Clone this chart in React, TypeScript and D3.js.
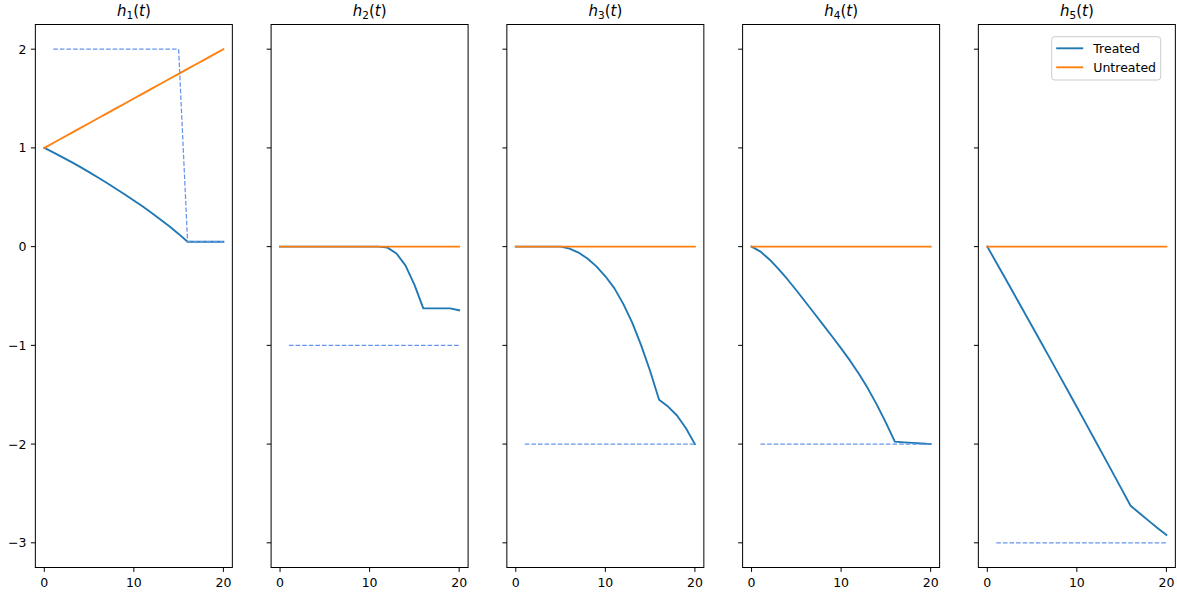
import React from "react";
import * as d3 from "d3";

const WIDTH = 1177;
const HEIGHT = 594;

// time steps for the solid curves, and for the dashed targets (which start at t=1)
const times = [0, 1, 2, 3, 4, 5, 6, 7, 8, 9, 10, 11, 12, 13, 14, 15, 16, 17, 18, 19, 20];
const targetTimes = [1, 2, 3, 4, 5, 6, 7, 8, 9, 10, 11, 12, 13, 14, 15, 16, 17, 18, 19, 20];

const treated1 = [1.0, 0.954, 0.907, 0.859, 0.808, 0.755, 0.7, 0.644, 0.587, 0.528, 0.468, 0.406, 0.341, 0.273, 0.203, 0.129, 0.05, 0.05, 0.05, 0.05, 0.05];
const treated2 = [0, 0, 0, 0, 0, 0, 0, 0, 0, 0, 0, 0, -0.01, -0.07, -0.19, -0.385, -0.625, -0.625, -0.625, -0.625, -0.645];
const treated3 = [0, 0, 0, 0, 0, 0, -0.02, -0.06, -0.12, -0.2, -0.3, -0.42, -0.58, -0.77, -1.0, -1.26, -1.55, -1.62, -1.71, -1.84, -2.0];
const treated4 = [0, -0.05, -0.13, -0.225, -0.33, -0.442, -0.558, -0.675, -0.792, -0.91, -1.03, -1.155, -1.29, -1.438, -1.603, -1.783, -1.975, -1.982, -1.988, -1.994, -2.0];
const treated5 = [0, -0.16, -0.321, -0.482, -0.644, -0.806, -0.969, -1.132, -1.296, -1.46, -1.625, -1.79, -1.956, -2.122, -2.289, -2.456, -2.624, -2.7, -2.775, -2.85, -2.92];

const untreated1 = [1.0, 1.05, 1.1, 1.15, 1.2, 1.25, 1.3, 1.35, 1.4, 1.45, 1.5, 1.55, 1.6, 1.65, 1.7, 1.75, 1.8, 1.85, 1.9, 1.95, 2.0];
const untreatedFlat = [0, 0, 0, 0, 0, 0, 0, 0, 0, 0, 0, 0, 0, 0, 0, 0, 0, 0, 0, 0, 0];

const target1 = [2, 2, 2, 2, 2, 2, 2, 2, 2, 2, 2, 2, 2, 2, 2, 0.05, 0.05, 0.05, 0.05, 0.05];
const target2 = [-1, -1, -1, -1, -1, -1, -1, -1, -1, -1, -1, -1, -1, -1, -1, -1, -1, -1, -1, -1];
const target3 = [-2, -2, -2, -2, -2, -2, -2, -2, -2, -2, -2, -2, -2, -2, -2, -2, -2, -2, -2, -2];
const target4 = [-2, -2, -2, -2, -2, -2, -2, -2, -2, -2, -2, -2, -2, -2, -2, -2, -2, -2, -2, -2];
const target5 = [-3, -3, -3, -3, -3, -3, -3, -3, -3, -3, -3, -3, -3, -3, -3, -3, -3, -3, -3, -3];

const xTicks = [0, 10, 20];
const yTicks = [-3, -2, -1, 0, 1, 2];
const legendLabels = ["Treated", "Untreated"];

const panels = [
  { sub: "1", treated: treated1, untreated: untreated1, target: target1 },
  { sub: "2", treated: treated2, untreated: untreatedFlat, target: target2 },
  { sub: "3", treated: treated3, untreated: untreatedFlat, target: target3 },
  { sub: "4", treated: treated4, untreated: untreatedFlat, target: target4 },
  { sub: "5", treated: treated5, untreated: untreatedFlat, target: target5 },
];

const BLUE = "#1f77b4";
const ORANGE = "#ff7f0e";
const DASH = "#6495ed";
const FONT = "DejaVu Sans";

const PANEL_LEFT = 35.35;
const PANEL_STEP = 235.75;
const PANEL_W = 197;
const TOP = 24.5;
const BOTTOM = 567.5;
const TICK = 4.4;

const x = d3.scaleLinear().domain([-1, 21]).range([0, PANEL_W]);
const y = d3.scaleLinear().domain([-3.25, 2.25]).range([BOTTOM, TOP]);

const solidLine = d3
  .line<number>()
  .x((_, i) => x(times[i]))
  .y((d) => y(d));

const dashedLine = d3
  .line<number>()
  .x((_, i) => x(targetTimes[i]))
  .y((d) => y(d));

const fmt = (v: number) => (v < 0 ? "\u2212" + Math.abs(v) : String(v));

const Panel = ({ p, idx }: { p: (typeof panels)[number]; idx: number }) => {
  const left = PANEL_LEFT + idx * PANEL_STEP;
  const last = idx === panels.length - 1;
  return (
    <g transform={`translate(${left},0)`}>
      <path d={solidLine(p.treated) || ""} fill="none" stroke={BLUE} strokeWidth={1.875} strokeLinejoin="round" strokeLinecap="square" />
      <path d={solidLine(p.untreated) || ""} fill="none" stroke={ORANGE} strokeWidth={1.875} strokeLinejoin="round" strokeLinecap="square" />
      <path d={dashedLine(p.target) || ""} fill="none" stroke={DASH} strokeWidth={1.25} strokeDasharray="4.6,2" />

      <rect x={0} y={TOP} width={PANEL_W} height={BOTTOM - TOP} fill="none" stroke="#000" strokeWidth={1} />

      {yTicks.map((v) => (
        <g key={"y" + v}>
          <line x1={-TICK} x2={0} y1={y(v)} y2={y(v)} stroke="#000" strokeWidth={1} />
          {idx === 0 && (
            <text x={-TICK - 4.4} y={y(v)} dy="0.36em" textAnchor="end" fontSize={12.5} fontFamily={FONT}>
              {fmt(v)}
            </text>
          )}
        </g>
      ))}
      {xTicks.map((v) => (
        <g key={"x" + v}>
          <line x1={x(v)} x2={x(v)} y1={BOTTOM} y2={BOTTOM + TICK} stroke="#000" strokeWidth={1} />
          <text x={x(v)} y={586.5} textAnchor="middle" fontSize={12.5} fontFamily={FONT}>
            {v}
          </text>
        </g>
      ))}

      <text x={PANEL_W / 2} y={16} textAnchor="middle" fontSize={15} fontFamily={FONT}>
        <tspan fontStyle="italic">h</tspan>
        <tspan fontSize={10.5} dy={2.6}>{p.sub}</tspan>
        <tspan dy={-2.6}>(</tspan>
        <tspan fontStyle="italic">t</tspan>
        <tspan>)</tspan>
      </text>

      {last && (
        <g transform={`translate(${1051.7 - left},36.7)`}>
          <rect x={0} y={0} width={109} height={43.3} rx={3} fill="#fff" fillOpacity={0.8} stroke="#ccc" strokeWidth={1} />
          {legendLabels.map((label, i) => (
            <g key={label} transform={`translate(0,${11.6 + i * 19})`}>
              <line x1={4.5} x2={31.5} y1={0} y2={0} stroke={i === 0 ? BLUE : ORANGE} strokeWidth={1.875} />
              <text x={41.6} y={0} dy="0.36em" fontSize={12.5} fontFamily={FONT}>
                {label}
              </text>
            </g>
          ))}
        </g>
      )}
    </g>
  );
};

export default function App() {
  return (
    <svg width={WIDTH} height={HEIGHT} style={{ position: "absolute", left: 0, top: 0, background: "#fff" }}>
      <rect width={WIDTH} height={HEIGHT} fill="#fff" />
      {panels.map((p, i) => (
        <Panel key={p.sub} p={p} idx={i} />
      ))}
    </svg>
  );
}
